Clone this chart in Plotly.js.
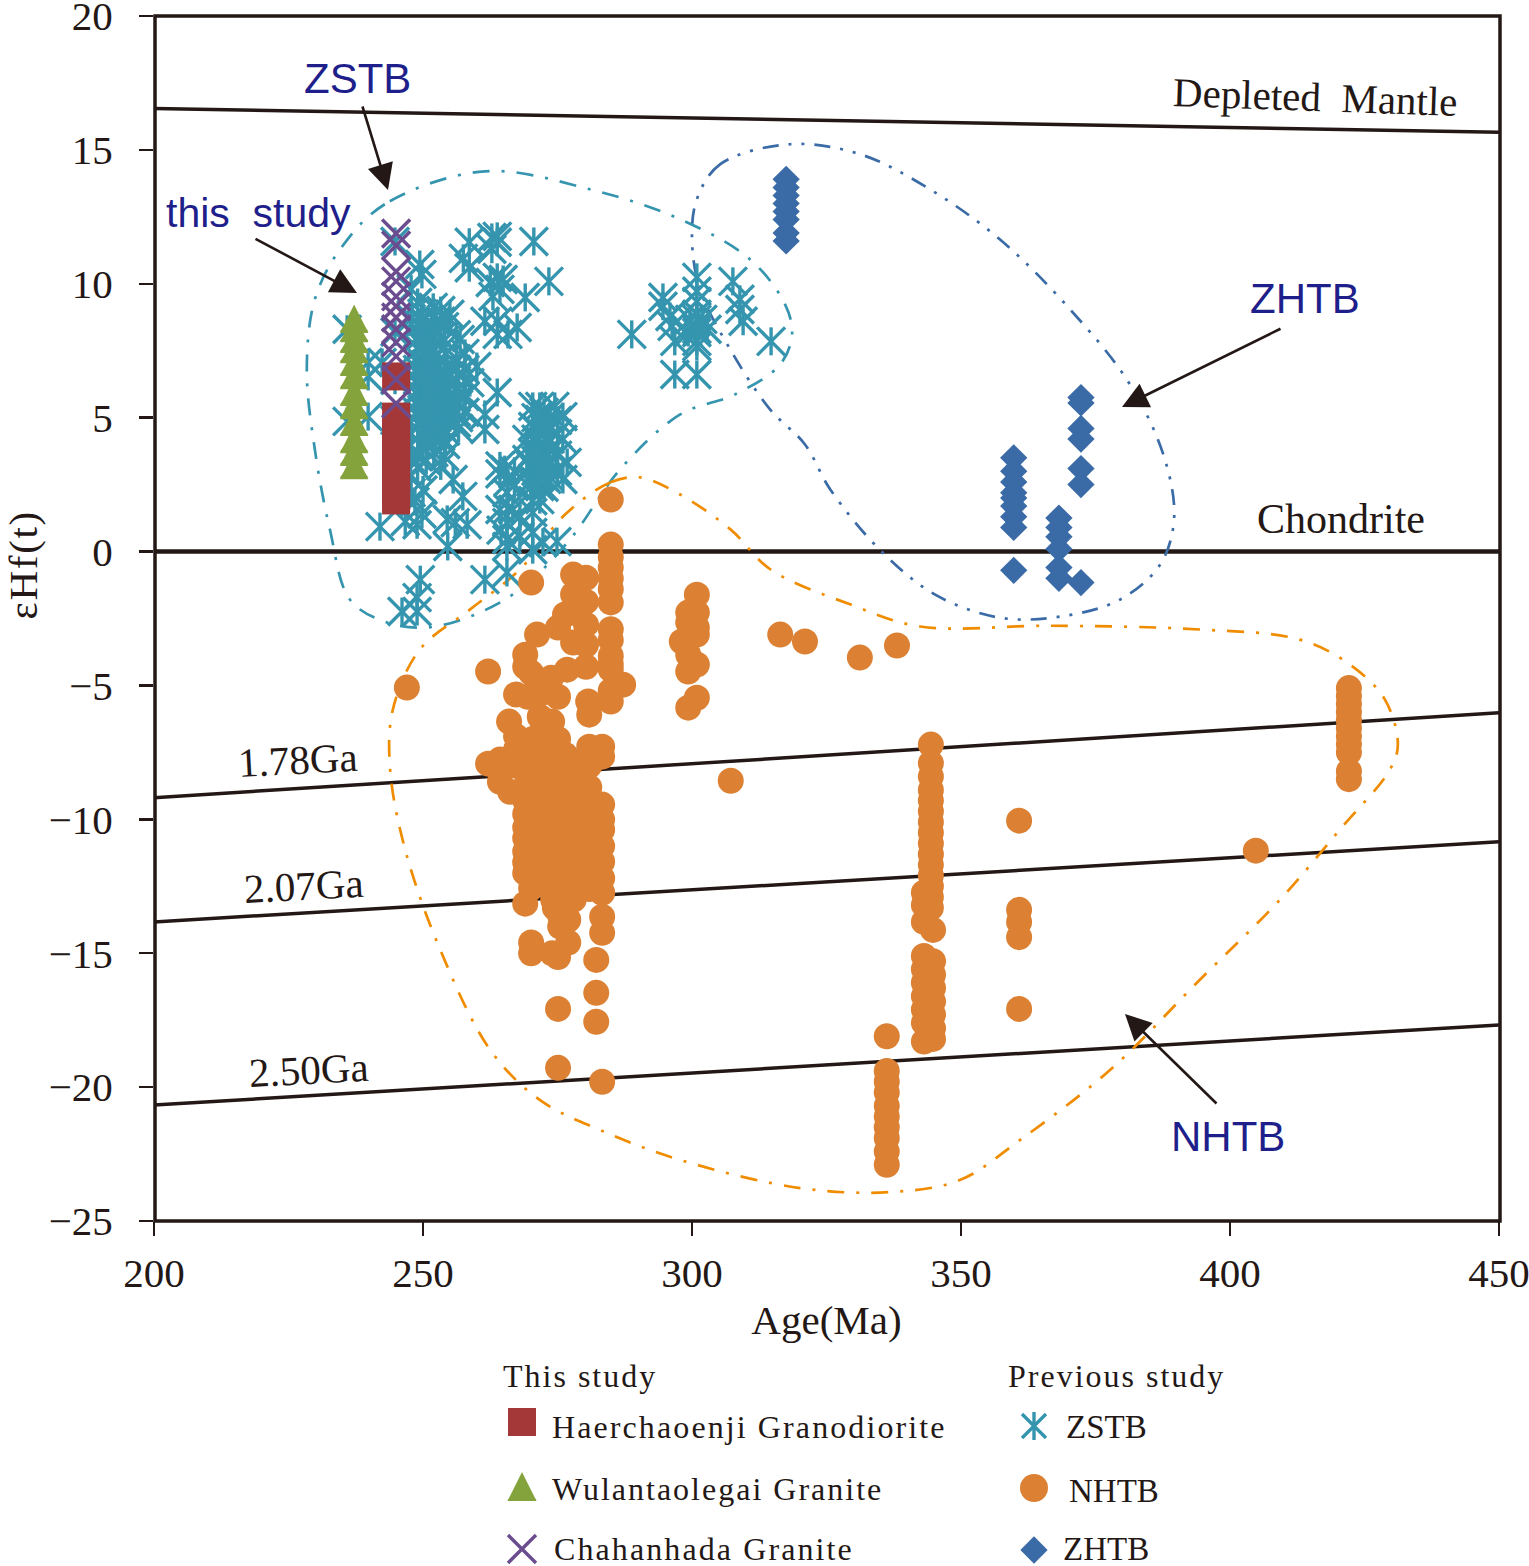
<!DOCTYPE html>
<html><head><meta charset="utf-8">
<script src="https://cdn.plot.ly/plotly-3.0.1.min.js"></script>
<style>html,body{margin:0;padding:0;background:#fff}</style></head>
<body><div id="chart" style="width:1529px;height:1566px"></div>
<script>
// Each column: [age, [eHf values...]]
const nhtbColumns = [
 [247.0,[-5.08]],[262.1,[-4.48,-7.92]],[270.1,[-1.16,-4.53,-12.56,-14.6,-15]],[284.9,[1.94,0.26,-0.2,-0.6,-1,-1.4,-1.9,-2.9,-3.3,-3.9,-4.2,-4.4,-5.2,-5.6]],
 [287.2,[-4.97]],[277.9,[-0.86,-1.6,-2.28,-3.4]],[280.3,[-0.98,-1.87,-2.73,-3.48,-4.3]],[276.4,[-2.35]],[275.1,[-2.84,-5.42,-13.38,-15.14,-17.08,-19.28]],
 [276.8,[-4.41]],[271.2,[-3.1]],[269,[-3.85,-4.3,-7.5,-8.2,-8.8,-9.3,-9.8,-10.3,-10.7,-11.2,-11.6,-12,-13.15]],[273.8,[-4.71]],[267.3,[-5.34,-6.9,-7.4,-8]],
 [269.5,[-5.42]],[272.3,[-5.27,-6.6,-7.2,-8,-8.8,-9.6,-10.4,-11.2,-11.8]],[266,[-6.35]],[274,[-6.35,-6.9,-7.7,-8.5,-9.3,-10.1,-10.9,-11.7,-12.3,-15]],[271.7,[-6.17]],
 [280.7,[-5.6]],[280.9,[-6.09,-7.29,-8,-8.8,-9.6,-10.4,-11.2,-12,-12.6]],[283.3,[-7.29,-7.66,-9.45,-10,-10.39,-11,-11.58,-12.2,-12.74,-13.64,-14.24,-19.8]],
 [264.3,[-7.77,-8.6]],[266.2,[-8.97]],[270.4,[-7,-7.8,-8.5,-9.2,-10,-10.8,-11.5]],[275.1,[-7,-7.7,-8.4,-9.1,-9.9,-10.7,-11.5,-12.2,-12.9]],
 [276.5,[-7.6,-8.3,-9,-9.8,-10.6,-11.4,-12.2,-13,-13.5]],[278,[-7.9,-8.6,-9.4,-10.2,-11,-11.8,-12.6,-13]],[279.5,[-8.2,-9,-9.8,-10.6,-11.4,-12.2]],
 [275.5,[-13.6,-14]],[274.5,[-13.3]],
 [277,[-13.75,-14.6]],[282.2,[-15.25,-16.48,-17.56]],[274.2,[-13]],[300.9,[-1.61,-2.28,-2.84,-3.1,-4.22,-5.46]],[299.3,[-2.28,-2.65,-3.85,-4.48,-5.83]],[298.1,[-3.36]],
 [307.2,[-8.56]],[316.4,[-3.1]],[321,[-3.36]],[331.2,[-3.96]],[338.1,[-3.51]],
 [344.4,[-7.21,-7.9,-8.4,-8.9,-9.3,-9.7,-10.1,-10.5,-10.9,-11.3,-11.7,-12.1,-12.5,-12.9,-13.3]],
 [343.1,[-12.74,-13.2,-13.83,-15.1,-15.6,-16.1,-16.6,-17.1,-17.6,-18.3]],[344.8,[-14.13,-15.3,-15.8,-16.3,-16.8,-17.3,-17.8,-18.2]],
 [336.2,[-18.1,-19.4,-19.8,-20.2,-20.7,-21.1,-21.5,-21.9,-22.4,-22.9]],[360.8,[-10.05,-13.38,-13.83,-14.4,-17.08]],[404.8,[-11.17]],
 [422.1,[-5.1,-5.4,-5.7,-6,-6.3,-6.6,-6.9,-7.2,-7.5,-8.2,-8.5]]
];
const zhtbColumns = [
 [359.8,[3.5,3.0,2.6,2.2,2.0,1.7,1.3,0.9,-0.7]],[368.2,[1.25,0.9,0.55,0.1,-0.6,-1.0]],
 [372.3,[5.75,5.55,4.6,4.2,3.1,2.5,-1.16]],[317.5,[13.9,13.6,13.3,13.0,12.7,12.4,11.9,11.6]]
];
const zstbColumns = [
 [270.6,[11.58]],[273.4,[10.09]],[258.6,[11.55,10.6]],[257.5,[10.95]],[262.8,[11.73,11.29]],[263.8,[11.77,11.55,10.24,8.11,5.94]],[262.5,[10.05]],[264.9,[10.16]],[263,[9.53]],[264.3,[9.79,1.57,2.9,3.2]],
 [269,[9.49]],[261.5,[8.6,5.12,4.56,-1.05]],[263.9,[8.6]],[267.5,[8.37]],[265.8,[8.11,2.6,1.6]],[249.4,[10.72]],[249.8,[10.35,8.9,8.6,8.1,7.7,7.4,6.9,6.5,6.1,5.7,5.3,4.9,4.4,1.4]],[244.8,[11.58,8.2,6.4,4.9]],
 [235.9,[8.3,4.86]],[242.4,[7.06]],[239.8,[7.06,6.54,5.04]],[242,[0.93]],[246.7,[1.12]],[248.9,[1,-1.72,-2.24]],[248.5,[1.87]],[254.5,[1.2]],[254.6,[0.19]],[257.4,[2.06]],[258.2,[1]],[256,[1.08]],[255.6,[2.69]],
 [249,[3.14,3.55,9.3,8.5,8,7.6,7.2,6.8,6.4,6,5.6,5.2,4.8]],[254,[3.55,8.4,7.9]],[260,[6.91]],[258.7,[6.31]],[256.9,[7.92]],[255,[8.86,6.3,5.8,5.4,5]],[251.9,[9.12]],
 [249.5,[-1.05]],[246.1,[-2.24]],[265.6,[-0.78,0.19,2.2,1.08,0.45]],[265.2,[3.06]],[266.7,[1.57]],[268,[1.31,0.56]],[270.4,[1.46,0.71,0.07]],[274.9,[0.37]],[272.3,[0.34]],
 [271.7,[5.42,4.93,4.45,3.92,3.44,2.95,2.43,1.94]],[274.5,[5.42]],[270.4,[5.42,4.67,3.7,2.7,1.9]],[273,[4.67,3.7,2.7]],[276,[4.19,5.04,2.69]],[276.8,[3.33]],[269.3,[4.19,3.44]],
 [250.6,[8.5,8.2,7.8,7.3,7,6.6,6.2,5.8,5.4,5,4.6,4.2,3.4]],[251.5,[8.1,7.6,7.1,6.7,6.3,5.9,5.5,5.1,4.7,4.3]],[252.4,[8.6,8.2,7.3,6.8,6.4,6,5.6,5.2,4.8,4.4]],
 [253.3,[9,8.6,8,6.7,6.3,5.9,5.5,5.1,4.7,4.3,3.2]],[254.2,[7.4,6.6,6.1,5.7,5.3,4.9,4.5,4]],[256.2,[8.1,7.2,6.8,6.4,6,5.6,5.2,4.8]],[256.6,[6.6,6.1,5.5,5,4.6]],[257.8,[7.4,6.8,5.8,5.2]],[247.8,[9.8,8.7,4.4,2.2]],[250,[3.9,2.3]],[252,[3.7]],[247.7,[3.5]],[247,[3.9,3]],
 [271,[5,4.6,4.2,3.8,3.4,3,2.6]],[272.5,[5.2,4.8,4.4,4,3.6,3.2,2.8,2.4]],[273.5,[5,4.2,3.4,2.8]],[270,[3.2,2.6]],[275,[4.9,4.4,3.6,3]],[267,[3,2.5]],[264.5,[0.8]],
 [288.8,[8.11]],[294.6,[9.49,9.16]],[295.9,[8.78]],[296.3,[8.41]],[296.8,[7.85,6.61]],[300.9,[10.24,9.72,9.34,8.86,8.67,8.3,8.18,7.85,7.66,6.61]],[299.6,[8.67]],[302,[8.67]],[302.8,[8.3]],[299.3,[8.18]],
 [307.6,[10.09]],[308.9,[9.42,9.04]],[309.5,[8.6]],[314.7,[7.85]]
];
const haerAge = [245,245,245,245,245,245,245,245,245,245,245];
const haerEhf = [6.54,5.04,4.63,4.26,3.89,3.51,3.14,2.77,2.39,2.02,1.91];
const wulanAge = [237.2,237.2,237.2,237.2,237.2,237.2,237.2,237.2,237.2,237.2,237.2,237.2];
const wulanEhf = [2.99,3.48,3.96,4.6,5.23,5.72,6.35,6.84,7.32,7.7,8.1,8.45];
const chahanAge = [245,245,245,245,245,245,245,245,245,245,245,245];
const chahanEhf = [11.88,11.43,10.46,10.09,9.53,9.16,8.74,8.3,7.81,7.29,6.43,5.53];

const zstbEnvelope = [[261.5,14.2],[242.9,12.97],[234.6,11.29],[229.9,9.42],[228.4,6.8],[229.9,3.81],[232.7,0.82],[236.4,-1.79],[242.9,-2.62],[250.4,-2.84],[258.7,-2.43],[268,-1.42],[277.3,0.45],[286.6,3.06],[297.8,5.12],[308,5.87],[316.4,6.99],[318.6,8.11],[317.3,9.23],[310.8,10.91],[297.8,12.41],[281,13.53],[261.5,14.2]];
const zhtbEnvelope = [[318.2,15.21],[305.2,14.46],[300.9,13.15],[300,11.66],[301.5,9.79],[307.1,7.55],[314.5,5.31],[321,4],[325.7,2.32],[334.9,0.07],[345.2,-1.61],[357.2,-2.47],[368.4,-2.43],[379.6,-1.79],[387,-0.49],[389.6,1.2],[387.9,3.44],[381.4,6.24],[370.3,9.04],[357.2,11.66],[344.2,13.53],[331.2,14.84],[318.2,15.21]];
const nhtbEnvelope = [[290.3,2.77],[284.8,2.58],[276.4,1.38],[268,-0.67],[258.7,-2.17],[249.4,-3.66],[244.4,-5.9],[243.9,-8.15],[246.7,-11.14],[253.2,-14.87],[262.5,-18.61],[271.7,-20.48],[282.9,-21.6],[297.8,-22.72],[320.1,-23.77],[336.8,-23.92],[349.8,-23.47],[361,-21.97],[377.7,-19.36],[394.4,-15.99],[409.3,-13],[420.4,-10.39],[429.7,-8.15],[431.2,-7.21],[428.8,-5.53],[422.3,-4.22],[413,-3.29],[394.4,-2.91],[366.5,-2.77],[342.4,-2.8],[329.5,-1.98],[314.6,-0.67],[307.2,0.82],[297.8,2.13],[290.3,2.77]];

const refLineAges = [200,450];
const depletedMantle = [16.55,15.66];
const chondrite = [0,0];
const ga178 = [-9.19,-6.02];
const ga207 = [-13.83,-10.84];
const ga250 = [-20.67,-17.68];

const xTicks = [200,250,300,350,400,450];
const yTicks = [20,15,10,5,0,-5,-10,-15,-20,-25];

const INK='#231815', TEAL='#3595af', ORANGE='#dc8133', BLUE='#3a6ba6', RED='#a43838', GREEN='#84a33c', PURPLE='#6a4c8f', NAVY='#1f1f8c';
const SERIF='"Liberation Serif", serif', SANS='"Liberation Sans", sans-serif';
const xs = c => c.flatMap(r => r[1].map(() => r[0]));
const ys = c => c.flatMap(r => r[1]);

const line = (y,name,w)=>({x:refLineAges,y,mode:'lines',name,line:{color:INK,width:w||3.5},hoverinfo:'skip'});
const env = (p,color,dash,name)=>({x:p.map(v=>v[0]),y:p.map(v=>v[1]),mode:'lines',name,line:{color,width:2.7,dash,shape:'spline',smoothing:1},hoverinfo:'skip'});
const pts = (x,y,symbol,size,color,name,open)=>({x,y,mode:'markers',name,cliponaxis:false,
  marker:{symbol,size,color,opacity:1,line:open?{color,width:3.4}:{width:0}}});
// The reference triangle is taller than Plotly's; a narrow arrow-up gives it its peak.
const TRI_PEAK = 0.775;
const key = (x,y,symbol,size,color,open)=>({x:[x],y:[y],xaxis:'x2',yaxis:'y2',mode:'markers',hoverinfo:'skip',
  marker:{symbol,size,color,line:open?{color,width:3.4}:{width:0}}});

const traces = [
 line(depletedMantle,'Depleted Mantle'),line(chondrite,'Chondrite',4.5),line(ga178,'1.78Ga'),line(ga207,'2.07Ga'),line(ga250,'2.50Ga'),
 env(zhtbEnvelope,BLUE,'16px,10px,3px,10px,3px,10px','ZHTB field'),
 env(zstbEnvelope,TEAL,'17px,12px,3px,12px','ZSTB field'),
 env(nhtbEnvelope,'#f08c00','17px,12px,3px,12px','NHTB field'),
 pts(xs(zstbColumns),ys(zstbColumns),'x-thin-open',28,TEAL,'ZSTB',true),
 pts(xs(zstbColumns),ys(zstbColumns),'line-ns-open',20,TEAL,'ZSTB',true),
 pts(xs(nhtbColumns),ys(nhtbColumns),'circle',26,ORANGE,'NHTB'),
 pts(xs(zhtbColumns),ys(zhtbColumns),'diamond',21,BLUE,'ZHTB'),
 pts(haerAge,haerEhf,'square',28,RED,'Haerchaoenji Granodiorite'),
 pts(wulanAge,wulanEhf,'triangle-up',25,GREEN,'Wulantaolegai Granite'),
 pts(wulanAge,wulanEhf.map(v=>v+TRI_PEAK),'arrow-up',28.4,GREEN,'Wulantaolegai Granite'),
 pts(chahanAge,chahanEhf,'x-thin-open',28,PURPLE,'Chahanhada Granite',true),
 // legend keys, on the page-pixel overlay axes
 key(522,1422,'square',28,RED),
 key(522,1494,'triangle-up',25,GREEN),key(522,1472,'arrow-up',29,GREEN),
 key(522,1549,'x-thin-open',28,PURPLE,true),
 key(1034,1426,'x-thin-open',24,TEAL,true),key(1034,1426,'line-ns-open',20,TEAL,true),
 key(1034,1488,'circle',28,ORANGE),
 key(1034,1550,'diamond',21,BLUE)
];

const txt=(x,y,text,size,color,font,angle,anchor)=>({x,y,xref:'x2',yref:'y2',text,showarrow:false,textangle:angle||0,xanchor:anchor||'center',yanchor:'middle',font:{family:font,size,color}});
const ls=(t,s)=>`<span style="letter-spacing:${s}px">${t}</span>`;
const arrow=(ax,ay,x,y)=>({x,y,ax,ay,xref:'x2',yref:'y2',axref:'x2',ayref:'y2',text:'',showarrow:true,arrowhead:2,arrowsize:2,arrowwidth:2.6,arrowcolor:INK});

const annotations=[
 txt(357,78,'ZSTB',42,NAVY,SANS),txt(258,213,'this  study',41,NAVY,SANS),txt(1305,298,'ZHTB',42,NAVY,SANS),txt(1228,1136,'NHTB',42,NAVY,SANS),
 txt(1315,97,'Depleted  Mantle',41,INK,SERIF,2),txt(1341,519,'Chondrite',42,INK,SERIF),
 txt(298,760,'1.78Ga',41,INK,SERIF,-3),txt(304,886,'2.07Ga',41,INK,SERIF,-3),txt(309,1070,'2.50Ga',41,INK,SERIF,-3),
 txt(501,1376,ls('This study',2),32,INK,SERIF,0,'left'),txt(550,1427,ls('Haerchaoenji Granodiorite',2.1),32,INK,SERIF,0,'left'),
 txt(550,1489,ls('Wulantaolegai Granite',2),32,INK,SERIF,0,'left'),txt(552,1549,ls('Chahanhada Granite',2.1),32,INK,SERIF,0,'left'),
 txt(1006,1376,ls('Previous study',2),32,INK,SERIF,0,'left'),txt(1064,1427,'ZSTB',33,INK,SERIF,0,'left'),
 txt(1067,1491,'NHTB',33,INK,SERIF,0,'left'),txt(1061,1549,'ZHTB',33,INK,SERIF,0,'left'),
 arrow(362,105,388,190),arrow(254,238,357,293),arrow(1282,328,1122,407),arrow(1218,1105,1125,1014)
];

const axisBase={showgrid:false,zeroline:false,showline:false,ticks:'outside',ticklen:14,tickwidth:2.5,tickcolor:INK,ticklabeloverflow:'allow',tickfont:{family:SERIF,size:41,color:INK}};
const layout={
 width:1529,height:1566,margin:{l:0,r:0,t:0,b:0},paper_bgcolor:'#fff',plot_bgcolor:'rgba(0,0,0,0)',showlegend:false,
 xaxis:{...axisBase,domain:[154/1529,1499/1529],range:[200,450],tickmode:'array',tickvals:xTicks,ticktext:xTicks.map(String),ticklabelstandoff:2,title:{text:'Age(Ma)',font:{family:SERIF,size:41,color:INK},standoff:10},automargin:false},
 yaxis:{...axisBase,domain:[1-1221/1566,1-16/1566],range:[-25,20],tickmode:'array',tickvals:yTicks,ticklabelstandoff:18,title:{text:ls('\u00A0\u00A0\u00A0\u00A0\u00A0\u00A0\u00A0\u00A0\u00A0εHf(t)',1.7),font:{family:SERIF,size:41,color:INK},standoff:12},automargin:false},
 xaxis2:{domain:[0,1],range:[0,1529],visible:false,anchor:'y2',fixedrange:true},
 yaxis2:{domain:[0,1],range:[1566,0],visible:false,anchor:'x2',fixedrange:true},
 shapes:[{type:'rect',xref:'x2',yref:'y2',x0:155,x1:1500,y0:16,y1:1221,line:{color:INK,width:3.5}}],
 annotations
};
Plotly.newPlot('chart',traces,layout,{displayModeBar:false,staticPlot:true});
</script></body></html>
